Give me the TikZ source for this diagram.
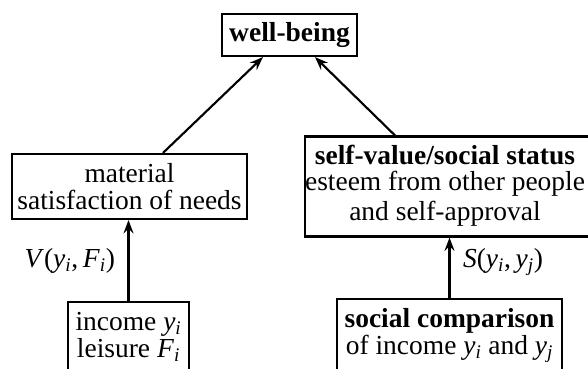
\documentclass[tikz,border=0pt]{standalone}
\usepackage{fontspec}
\setmainfont{Liberation Serif}
\usetikzlibrary{arrows.meta}

\newcommand{\vari}[2]{\textit{#1}\textsubscript{\textit{#2}}}

\tikzset{every picture/.style={line width=1.6pt}}
\tikzset{
  box/.style={draw, align=center, inner sep=0pt, font=\fontsize{20.6}{20}\selectfont},
  arr/.style={-{Stealth[length=10pt,width=7.5pt,inset=3.5pt]}},
  lbl/.style={font=\fontsize{20.6}{20}\selectfont}
}

\begin{document}
\begin{tikzpicture}[x=0.75pt,y=0.75pt,yscale=-1,xscale=1]
\path[use as bounding box, clip] (0,0) rectangle (588,368);

% Boxes
\node [box, minimum width=101.25pt, minimum height=31.5pt] (wellbeing) at (289.5,35) {\textbf{well-being}};
\node [box, minimum width=176.25pt, minimum height=48.75pt] (material) at (129.5,186.5) {material\\satisfaction of needs};
\node [draw, inner sep=0pt, font=\fontsize{20.6}{20}\selectfont, minimum width=217.5pt, minimum height=75pt] (selfvalue) at (450,186.5) {\hspace*{-7.5pt}\begin{tabular}{@{}c@{}}\textbf{self-value/social status}\\[-1pt]esteem from other people\\[2pt]and self-approval\end{tabular}};
\node [box, minimum width=90.75pt, minimum height=52.5pt] (income) at (128.5,337) {income \vari{y}{i}\\leisure \vari{F}{i}};
\node [box, minimum width=168.75pt, minimum height=54.75pt] (comparison) at (449.5,335.5) {\textbf{social comparison}\\of income \vari{y}{i} and \vari{y}{j}};

% Arrows to well-being
\draw [arr] ([xshift=25.1pt]material.north) -- ([xshift=-19.9pt]wellbeing.south);
\draw [arr] ([xshift=-41.25pt]selfvalue.north) -- ([xshift=19.1pt]wellbeing.south);

% Arrows from the bottom boxes
\draw [arr] (income.north) -- (income.north |- material.south) node [lbl, midway, left, xshift=-6pt] {\textit{V}(\vari{y}{i},\,\vari{F}{i})};
\draw [arr] (comparison.north) -- (comparison.north |- selfvalue.south) node [lbl, pos=0.6, right, xshift=6pt] {\textit{S}(\vari{y}{i},\,\vari{y}{j})};

\end{tikzpicture}
\end{document}
